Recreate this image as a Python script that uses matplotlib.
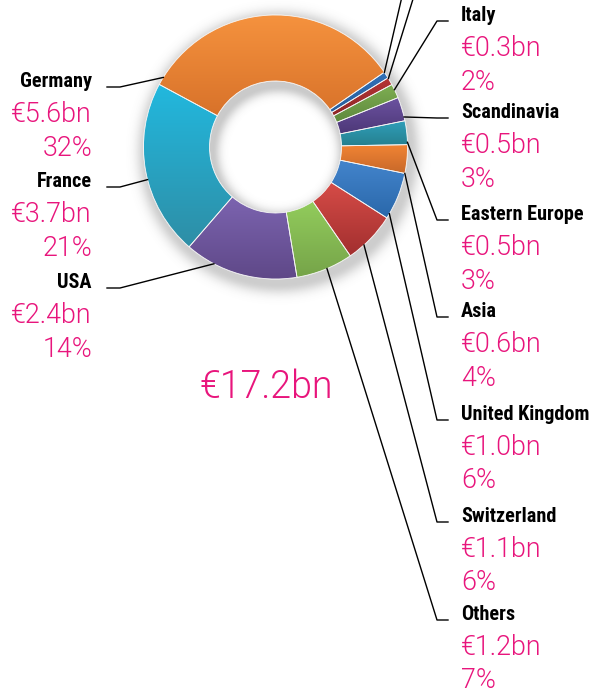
import numpy as np
import matplotlib
matplotlib.use("Agg")
import matplotlib.pyplot as plt
from matplotlib import font_manager as fm
from matplotlib.colors import to_rgb
from matplotlib.patches import Wedge

# -------------------------------------------------------------------
# DATOS
# -------------------------------------------------------------------
regiones = ["Germany", "France", "USA", "Others", "Switzerland", "United Kingdom",
            "Asia", "Eastern Europe", "Scandinavia", "Italy", "", ""]
valores_bn = [5.6, 3.7, 2.4, 1.2, 1.1, 1.0, 0.6, 0.5, 0.5, 0.3, 0.16, 0.14]
porcentajes = [32, 21, 14, 7, 6, 6, 4, 3, 3, 2, None, None]
total_bn = 17.2

color_arriba = ["#f5923e", "#22b8de", "#7c64b0", "#92cc5c", "#d64c47", "#4384cc",
                "#f28434", "#2f9fba", "#6c52a0", "#7eae52", "#b53535", "#3070b8"]
color_abajo = ["#d8722a", "#2e8ea6", "#5f4888", "#76a449", "#a22f2f", "#2a68aa",
               "#c8692a", "#26808f", "#4d3878", "#5f8a3e", "#8e2626", "#285e9c"]

# -------------------------------------------------------------------
# LAYOUT (pixeles, eje y hacia abajo)
# -------------------------------------------------------------------
W, H = 593, 691
cx, cy = 275.5, 147.0
R_ext, R_int = 132.0, 66.0
angulo_inicio = 34.5
ROSA = "#e8157c"

def fy(y):
    return H - y

# lado, baseline del nombre, fraccion del angulo dentro del sector
etiquetas = {
    "Germany": ("izq", 87, 0.97),
    "France": ("izq", 187, 0.55),
    "USA": ("izq", 288, 0.26),
    "Italy": ("der", 21, 0.6),
    "Scandinavia": ("der", 118, 0.16),
    "Eastern Europe": ("der", 220, 0.1),
    "Asia": ("der", 317, 0.0),
    "United Kingdom": ("der", 420, 0.1),
    "Switzerland": ("der", 522, 0.33),
    "Others": ("der", 620, 0.54),
}


def _elegir_familia(preferidas, peso_min):
    """Primera familia instalada con un peso >= peso_min."""
    disponibles = {}
    for f in fm.fontManager.ttflist:
        w = f.weight if isinstance(f.weight, int) else 400
        disponibles.setdefault(f.name, set()).add(w)
    for nombre in preferidas:
        if nombre in disponibles and max(disponibles[nombre]) >= peso_min:
            return nombre
    return "DejaVu Sans"


fam_nombre = _elegir_familia(["Roboto Condensed", "Liberation Sans Narrow", "Archivo Narrow",
                              "PT Sans Narrow", "Fira Sans Condensed", "IBM Plex Sans Condensed",
                              "Encode Sans Condensed", "Barlow Semi Condensed", "Asap Condensed",
                              "Open Sans Condensed", "Sofia Sans Condensed", "Liberation Sans"], 700)
fam_valor = _elegir_familia(["Roboto", "Liberation Sans"], 300)
PESO_VALOR = 300

fig = plt.figure(figsize=(W / 100, H / 100), dpi=100)
ax = fig.add_axes([0, 0, 1, 1])
ax.axis("off")
ax.set_xlim(0, W)
ax.set_ylim(0, H)
renderer = fig.canvas.get_renderer()


def _ajustar_tamano(texto, familia, peso, ancho_px, base=14.0):
    t = fig.text(0, 0, texto, family=familia, fontweight=peso, fontsize=base)
    ancho = t.get_window_extent(renderer).width
    t.remove()
    return base * ancho_px / ancho


tam_nombre = _ajustar_tamano("Eastern Europe", fam_nombre, "bold", 123)
tam_valor = _ajustar_tamano("€0.5bn", fam_valor, PESO_VALOR, 81)
tam_total = _ajustar_tamano("€17.2bn", fam_valor, PESO_VALOR, 134)

# --- sombra difusa del anillo ---
xs = np.arange(W) + 0.5
ys = np.arange(H) + 0.5
X, Y = np.meshgrid(xs, ys)
d_ext = np.hypot(X - (cx + 3), Y - (cy + 5)) - R_ext
alpha_ext = np.where(d_ext > 0, 0.30 * np.exp(-(d_ext / 10.0) ** 2), 0.30)
d_int = R_int - np.hypot(X - (cx + 3), Y - (cy + 5))
alpha_int = np.where(d_int > 0, 0.32 * np.exp(-(d_int / 8.0) ** 2), 0.32)
en_hueco = np.hypot(X - cx, Y - cy) < R_int
alpha = np.where(en_hueco, alpha_int, alpha_ext)
sombra = np.zeros((H, W, 4))
sombra[..., :3] = 0.35
sombra[..., 3] = alpha
ax.imshow(sombra, extent=(0, W, 0, H), origin="upper", zorder=0, interpolation="bilinear")

# --- anillo ---
wedges, _ = ax.pie(valores_bn, radius=R_ext, center=(cx, fy(cy)), startangle=angulo_inicio,
                   counterclock=True, colors=color_arriba,
                   wedgeprops={"width": R_ext - R_int, "edgecolor": "#f4f4f4", "linewidth": 0.6})

for w, c1, c2 in zip(wedges, color_arriba, color_abajo):
    ext = w.get_path().get_extents()
    t = np.linspace(0, 1, 64)[:, None]
    grad = (1 - t) * np.array(to_rgb(c2)) + t * np.array(to_rgb(c1))
    im = ax.imshow(grad[:, None, :], extent=(ext.x0, ext.x1, ext.y0, ext.y1), origin="lower",
                   aspect="auto", interpolation="bilinear", zorder=w.get_zorder() + 0.1)
    im.set_clip_path(w)
    ax.add_patch(Wedge(w.center, w.r, w.theta1, w.theta2, width=w.width,
                       facecolor="none", edgecolor="#f4f4f4", linewidth=0.6,
                       zorder=w.get_zorder() + 0.2))


def punto_anclaje(w, frac):
    ang = np.deg2rad(w.theta1 + frac * (w.theta2 - w.theta1))
    return w.center[0] + w.r * np.cos(ang), w.center[1] + w.r * np.sin(ang)


fuente_nombre = dict(family=[fam_nombre, "DejaVu Sans"], fontweight="bold",
                     fontsize=tam_nombre, color="black")
fuente_valor = dict(family=[fam_valor, "DejaVu Sans"], fontweight=PESO_VALOR,
                    fontsize=tam_valor, color=ROSA)

for i, nombre in enumerate(regiones):
    w = wedges[i]
    if nombre == "":
        # lineas de los dos sectores pequenos (sus etiquetas quedan fuera del cuadro)
        ultimo = i == len(regiones) - 1
        frac = 0.97 if ultimo else 0.9
        pend = 0.232 if ultimo else 0.31
        px, py = punto_anclaje(w, frac)
        ax.plot([px, px + 150 * pend], [py, py + 150], color="black", lw=1.0, zorder=5)
        continue
    lado, base, frac = etiquetas[nombre]
    px, py = punto_anclaje(w, frac)
    if lado == "izq":
        ax.plot([107, 120, px], [fy(base), fy(base), py], color="black", lw=1.0, zorder=5)
        xt, ha = 92, "right"
    else:
        ax.plot([px, 437, 448], [py, fy(base), fy(base)], color="black", lw=1.0, zorder=5)
        xt, ha = 461, "left"
    ax.text(xt, fy(base), nombre, ha=ha, va="baseline", **fuente_nombre)
    ax.text(xt, fy(base + 35), f"€{valores_bn[i]:.1f}bn", ha=ha, va="baseline", **fuente_valor)
    ax.text(xt, fy(base + 68.5), f"{porcentajes[i]}%", ha=ha, va="baseline", **fuente_valor)

ax.text(266, fy(398), f"€{total_bn:.1f}bn", ha="center", va="baseline",
        family=[fam_valor, "DejaVu Sans"], fontweight=PESO_VALOR, fontsize=tam_total, color=ROSA)

ax.set_xlim(0, W)
ax.set_ylim(0, H)
ax.set_aspect("auto")

fig.savefig("out.png", dpi=100)
